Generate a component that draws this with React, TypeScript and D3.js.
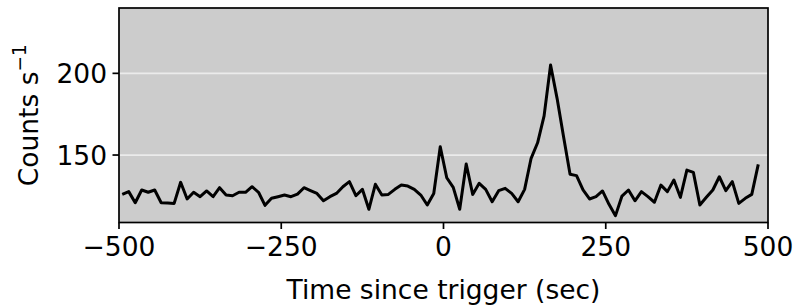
import * as d3 from 'd3';

// 10 s bins, centre times (sec since trigger)
const binTimes = [
  -495, -485, -475, -465, -455, -445, -435, -425, -415, -405,
  -395, -385, -375, -365, -355, -345, -335, -325, -315, -305,
  -295, -285, -275, -265, -255, -245, -235, -225, -215, -205,
  -195, -185, -175, -165, -155, -145, -135, -125, -115, -105,
  -95, -85, -75, -65, -55, -45, -35, -25, -15, -5,
  5, 15, 25, 35, 45, 55, 65, 75, 85, 95,
  105, 115, 125, 135, 145, 155, 165, 175, 185, 195,
  205, 215, 225, 235, 245, 255, 265, 275, 285, 295,
  305, 315, 325, 335, 345, 355, 365, 375, 385, 395,
  405, 415, 425, 435, 445, 455, 465, 475, 485,
];

const countRates = [
  125.9, 127.6, 120.8, 128.6, 127.2, 128.6, 120.8, 120.6, 120.4, 133.3,
  123.1, 127.2, 124.5, 128.0, 124.5, 130.0, 125.5, 125.1, 127.2, 127.2,
  130.6, 127.2, 119.2, 123.5, 124.5, 125.5, 124.5, 126.1, 130.0, 128.2,
  126.5, 122.0, 124.5, 126.5, 130.6, 133.7, 125.1, 129.0, 116.8, 132.1,
  125.5, 125.9, 129.0, 131.6, 131.0, 129.0, 125.5, 119.4, 126.5, 155.1,
  136.1, 130.2, 116.8, 144.5, 125.9, 132.7, 129.0, 121.4, 128.2, 129.6,
  126.5, 121.4, 129.0, 148.0, 157.5, 174.0, 205.1, 184.7, 161.2, 138.2,
  137.4, 128.6, 123.1, 124.5, 128.0, 119.8, 112.9, 124.9, 128.6, 122.0,
  127.6, 124.5, 121.1, 131.6, 127.6, 134.7, 124.1, 140.8, 139.4, 119.4,
  124.1, 128.6, 136.7, 128.2, 133.7, 120.4, 123.5, 125.9, 144.3,
];

const xTicks = [-500, -250, 0, 250, 500];
const yTicks = [150, 200];
const xDomain = [-500, 500];
const yDomain = [108.7, 240];

const W = 796, H = 305;
const left = 119, right = 768, top = 8, bottom = 222.5;
const font = 'DejaVu Sans, sans-serif';
const fs = 26.5;
const tickLen = 6.5, tickPad = 5.5;

export default function App() {
  const x = d3.scaleLinear().domain(xDomain).range([left, right]);
  const y = d3.scaleLinear().domain(yDomain).range([bottom, top]);
  const fmt = d3.format('d');

  const line = d3.line<number>()
    .x((_, i) => x(binTimes[i]))
    .y(d => y(d));

  return (
    <svg width={W} height={H} style={{ position: 'absolute', left: 0, top: 0 }}
      fontFamily={font}>
      <rect x={left} y={top} width={right - left} height={bottom - top} fill="#cccccc" />
      {yTicks.map(t => (
        <line key={'g' + t} x1={left} x2={right} y1={y(t)} y2={y(t)}
          stroke="#ebebeb" strokeWidth={1.7} />
      ))}
      <path d={line(countRates) || ''} fill="none" stroke="#000" strokeWidth={3}
        strokeLinejoin="round" />
      <rect x={left} y={top} width={right - left} height={bottom - top}
        fill="none" stroke="#000" strokeWidth={1.7} />
      {xTicks.map(t => (
        <g key={'x' + t}>
          <line x1={x(t)} x2={x(t)} y1={bottom} y2={bottom + tickLen} stroke="#000" strokeWidth={1.7} />
          <text x={x(t)} y={bottom + 33.5} fontSize={fs} textAnchor="middle">
            {fmt(t)}
          </text>
        </g>
      ))}
      {yTicks.map(t => (
        <g key={'y' + t}>
          <line x1={left - tickLen} x2={left} y1={y(t)} y2={y(t)} stroke="#000" strokeWidth={1.7} />
          <text x={left - tickLen - tickPad} y={y(t)} dy="0.36em" fontSize={fs} textAnchor="end">
            {fmt(t)}
          </text>
        </g>
      ))}
      <text x={(left + right) / 2} y={299} fontSize={fs} textAnchor="middle">
        Time since trigger (sec)
      </text>
      <text transform={`translate(38,${(top + bottom) / 2}) rotate(-90)`} fontSize={fs}
        textAnchor="middle">
        Counts s<tspan fontSize={fs * 0.7} dy={-12}>−1</tspan>
      </text>
    </svg>
  );
}
